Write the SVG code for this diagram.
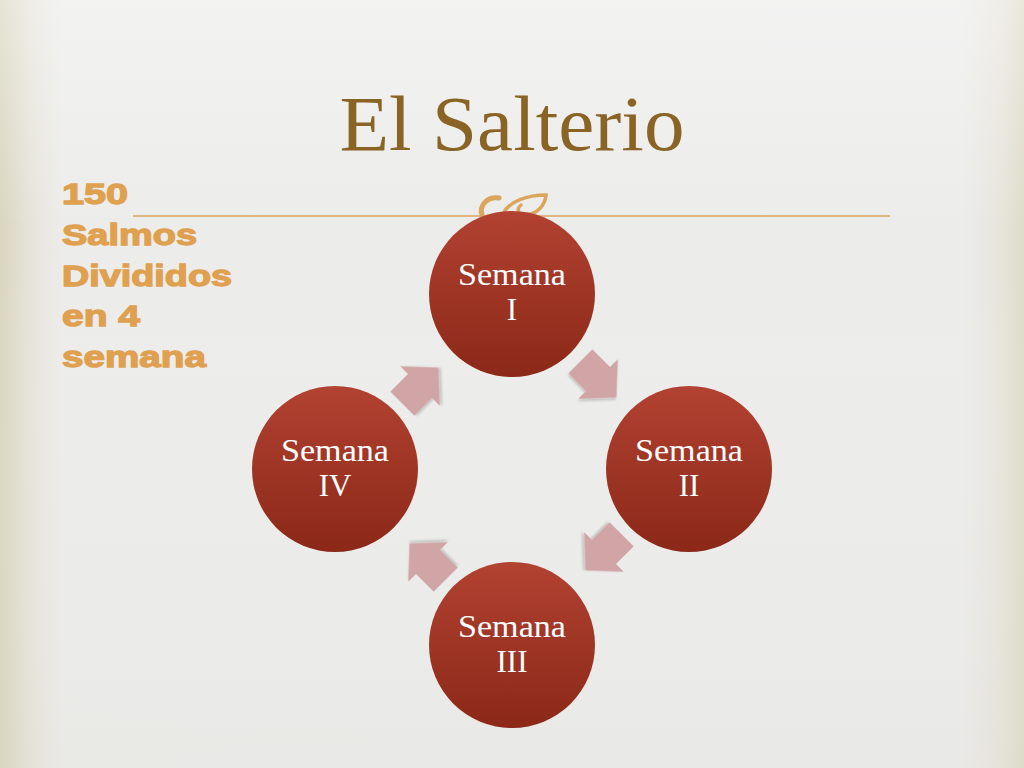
<svg xmlns="http://www.w3.org/2000/svg" width="1024" height="768" viewBox="0 0 1024 768">
  <defs>
    <linearGradient id="bgH" x1="0" y1="0" x2="1" y2="0">
      <stop offset="0" stop-color="#d9d5bf"/>
      <stop offset="0.03" stop-color="#e6e4da"/>
      <stop offset="0.06" stop-color="#ececea"/>
      <stop offset="0.94" stop-color="#ececeb"/>
      <stop offset="0.98" stop-color="#e6e4da"/>
      <stop offset="1" stop-color="#dedbc9"/>
    </linearGradient>
    <linearGradient id="bgV" x1="0" y1="0" x2="0" y2="1">
      <stop offset="0" stop-color="#ffffff" stop-opacity="0.35"/>
      <stop offset="0.3" stop-color="#ffffff" stop-opacity="0"/>
      <stop offset="1" stop-color="#d8d6cc" stop-opacity="0.15"/>
    </linearGradient>
    <linearGradient id="circ" x1="0" y1="0" x2="0" y2="1">
      <stop offset="0" stop-color="#b24232"/>
      <stop offset="1" stop-color="#8b2817"/>
    </linearGradient>
    <filter id="sh" x="-30%" y="-30%" width="160%" height="160%">
      <feDropShadow dx="1.5" dy="2" stdDeviation="1" flood-color="#000" flood-opacity="0.18"/>
    </filter>
    <polygon id="arr" points="-25,-17 0,-17 0,-28 26,0 0,28 0,17 -25,17"/>
  </defs>
  <style>
    .node circle { fill: url(#circ); }
    .node text { font-family: "Liberation Serif", "DejaVu Serif", serif; font-size: 31px; fill: #ffffff; text-anchor: middle; }
    .side { font-family: "Liberation Sans", Arial, sans-serif; font-weight: bold; font-size: 30px; fill: #dfa04f; stroke: #dfa04f; stroke-width: 1.3; }
    .conn use { fill: #d1a5a5; filter: url(#sh); }
  </style>

  <rect x="0" y="0" width="1024" height="768" fill="url(#bgH)"/>
  <rect x="0" y="0" width="1024" height="768" fill="url(#bgV)"/>

  <g id="title">
    <text x="512" y="150" font-family="Liberation Serif, DejaVu Serif, serif" font-size="79" fill="#8a6425" text-anchor="middle" textLength="345" lengthAdjust="spacingAndGlyphs">El Salterio</text>
  </g>

  <g id="rule">
    <line x1="133" y1="216" x2="890" y2="216" stroke="#dca55c" stroke-width="1.6"/>
    <g fill="none" stroke="#dca55c" stroke-linecap="round">
      <path d="M499,198 C487,196 479,206 482,215" stroke-width="5"/>
      <path d="M503,214 C509,201 528,195 546,195 C545,206 537,214 525,215 C518,215 516,209 521,205" stroke-width="3.5"/>
    </g>
  </g>

  <g id="sidetext" class="side">
    <text x="62" y="204" textLength="66" lengthAdjust="spacingAndGlyphs">150</text>
    <text x="62" y="245" textLength="135" lengthAdjust="spacingAndGlyphs">Salmos</text>
    <text x="62" y="286" textLength="170" lengthAdjust="spacingAndGlyphs">Divididos</text>
    <text x="62" y="326" textLength="78" lengthAdjust="spacingAndGlyphs">en 4</text>
    <text x="62" y="367" textLength="144" lengthAdjust="spacingAndGlyphs">semana</text>
  </g>

  <g id="connectors" class="conn">
    <use href="#arr" transform="translate(598,379) rotate(45)"/>
    <use href="#arr" transform="translate(604,552) rotate(135)"/>
    <use href="#arr" transform="translate(428,562) rotate(-135)"/>
    <use href="#arr" transform="translate(420,386) rotate(-45)"/>
  </g>

  <g id="semana1" class="node">
    <circle cx="512" cy="294" r="83"/>
    <text x="512" y="285" textLength="108" lengthAdjust="spacingAndGlyphs">Semana</text>
    <text x="512" y="320">I</text>
  </g>
  <g id="semana2" class="node">
    <circle cx="689" cy="469" r="83"/>
    <text x="689" y="461" textLength="108" lengthAdjust="spacingAndGlyphs">Semana</text>
    <text x="689" y="496">II</text>
  </g>
  <g id="semana3" class="node">
    <circle cx="512" cy="645" r="83"/>
    <text x="512" y="637" textLength="108" lengthAdjust="spacingAndGlyphs">Semana</text>
    <text x="512" y="672">III</text>
  </g>
  <g id="semana4" class="node">
    <circle cx="335" cy="469" r="83"/>
    <text x="335" y="461" textLength="108" lengthAdjust="spacingAndGlyphs">Semana</text>
    <text x="335" y="496">IV</text>
  </g>
</svg>
